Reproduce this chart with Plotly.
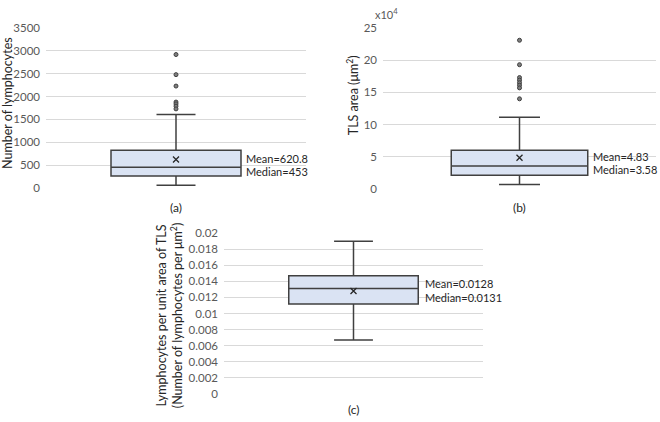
import plotly.graph_objects as go

# ---- data ----
panels = ["(a)", "(b)", "(c)"]
y_titles = ["Number of lymphocytes", "TLS area (μm<sup>2</sup>)",
            "Lymphocytes per unit area of TLS<br>(Number of lymphocytes per μm<sup>2</sup>)"]
a_stats = dict(lower=57, q1=262, median=453, q3=827, upper=1605, mean=620.8)
a_outliers = [2920, 2480, 2230, 1880, 1840, 1790, 1730]
b_stats = dict(lower=0.70, q1=2.11, median=3.58, q3=6.02, upper=11.14, mean=4.83)
b_outliers = [23.1, 19.3, 17.3, 16.9, 16.5, 16.1, 15.7, 14.0]
c_stats = dict(lower=0.0067, q1=0.0112, median=0.0131, q3=0.0147, upper=0.0190, mean=0.0128)
c_outliers = []
mean_labels = ["Mean=620.8", "Mean=4.83", "Mean=0.0128"]
median_labels = ["Median=453", "Median=3.58", "Median=0.0131"]
y_ranges = [[0, 3500], [0, 25], [0, 0.02]]
y_dticks = [500, 5, 0.002]

W, H = 660, 422
FONT = "Lato"
TICK_C = "#595959"
TXT_C = "#262626"
BOX_FILL = "#dae3f3"
BOX_LINE = "#404040"
GRID = "#d9d9d9"

# plot areas in pixels: (x0, x1, ytop, ybottom)
areas = [(46, 306, 21.7, 186.7), (383, 656, 21.7, 187.7), (224, 483, 233.3, 399.3)]
# label positions in pixels: (x_left, y_mean, y_median)
label_pos = [(245, 156, 170), (592, 154, 168), (424, 285, 300)]
letter_y = [207, 207, 415]

fig = go.Figure()
stats_list = [a_stats, b_stats, c_stats]
outs_list = [a_outliers, b_outliers, c_outliers]

for i, (st, outs) in enumerate(zip(stats_list, outs_list)):
    xa = "x" if i == 0 else f"x{i+1}"
    ya = "y" if i == 0 else f"y{i+1}"
    fig.add_trace(go.Box(
        x=[0], q1=[st["q1"]], median=[st["median"]], q3=[st["q3"]],
        lowerfence=[st["lower"]], upperfence=[st["upper"]],
        width=0.5, whiskerwidth=0.3, fillcolor=BOX_FILL,
        line=dict(color=BOX_LINE, width=1.5), boxpoints=False,
        xaxis=xa, yaxis=ya, showlegend=False, hoverinfo="skip"))
    fig.add_trace(go.Scatter(
        x=[0], y=[st["mean"]], mode="markers",
        marker=dict(symbol="x-thin", size=6, line=dict(color=TXT_C, width=1.3)),
        xaxis=xa, yaxis=ya, showlegend=False, hoverinfo="skip"))
    if outs:
        fig.add_trace(go.Scatter(
            x=[0] * len(outs), y=outs, mode="markers",
            marker=dict(symbol="circle", size=4, color="#7f7f7f",
                        line=dict(color="#404040", width=1)),
            xaxis=xa, yaxis=ya, showlegend=False, hoverinfo="skip"))

layout = dict(width=W, height=H, margin=dict(l=0, r=0, t=0, b=0),
              paper_bgcolor="white", plot_bgcolor="white",
              font=dict(family=FONT, size=11, color=TICK_C))

annotations = []
for i, (x0, x1, yt, yb) in enumerate(areas):
    sfx = "" if i == 0 else str(i + 1)
    layout[f"xaxis{sfx}"] = dict(domain=[x0 / W, x1 / W], range=[-0.5, 0.5],
                                 showticklabels=False, showgrid=False, zeroline=False,
                                 anchor=f"y{sfx}", fixedrange=True)
    layout[f"yaxis{sfx}"] = dict(domain=[1 - yb / H, 1 - yt / H], range=y_ranges[i],
                                 dtick=y_dticks[i], tick0=0, gridcolor=GRID, gridwidth=1,
                                 zeroline=False, showline=False, ticks="",
                                 tickfont=dict(size=11.5, color=TICK_C),
                                 anchor=f"x{sfx}", fixedrange=True, ticklabelstandoff=5)
    lx, lym, lymed = label_pos[i]
    annotations.append(dict(text=mean_labels[i], xref="paper", yref="paper",
                            x=lx / W, y=1 - lym / H, xanchor="left", yanchor="middle",
                            showarrow=False, borderpad=0,
                            font=dict(size=11, color=TXT_C)))
    annotations.append(dict(text=median_labels[i], xref="paper", yref="paper",
                            x=lx / W, y=1 - lymed / H, xanchor="left", yanchor="middle",
                            showarrow=False, borderpad=0,
                            font=dict(size=11, color=TXT_C)))
    annotations.append(dict(text=panels[i], xref="paper", yref="paper",
                            x=((x0 + x1) / 2) / W, y=1 - letter_y[i] / H,
                            xanchor="center", yanchor="middle", showarrow=False,
                            font=dict(size=12, color=TXT_C)))

# y-axis titles
title_pos = [(8, 99), (352, 91), (169, 318)]
for i, (tx, ty) in enumerate(title_pos):
    annotations.append(dict(text=y_titles[i], xref="paper", yref="paper",
                            x=tx / W, y=1 - ty / H, xanchor="center", yanchor="middle",
                            textangle=-90, showarrow=False,
                            font=dict(size=12.5, color=TXT_C)))
annotations.append(dict(text="x10<sup>4</sup>", xref="paper", yref="paper",
                        x=373 / W, y=1 - 7 / H, xanchor="left", yanchor="middle",
                        showarrow=False, font=dict(size=11, color=TICK_C)))

layout["annotations"] = annotations
fig.update_layout(**layout)
fig.write_html("out.html", config={"displayModeBar": False},
               post_script="document.body.style.margin='0px';")
